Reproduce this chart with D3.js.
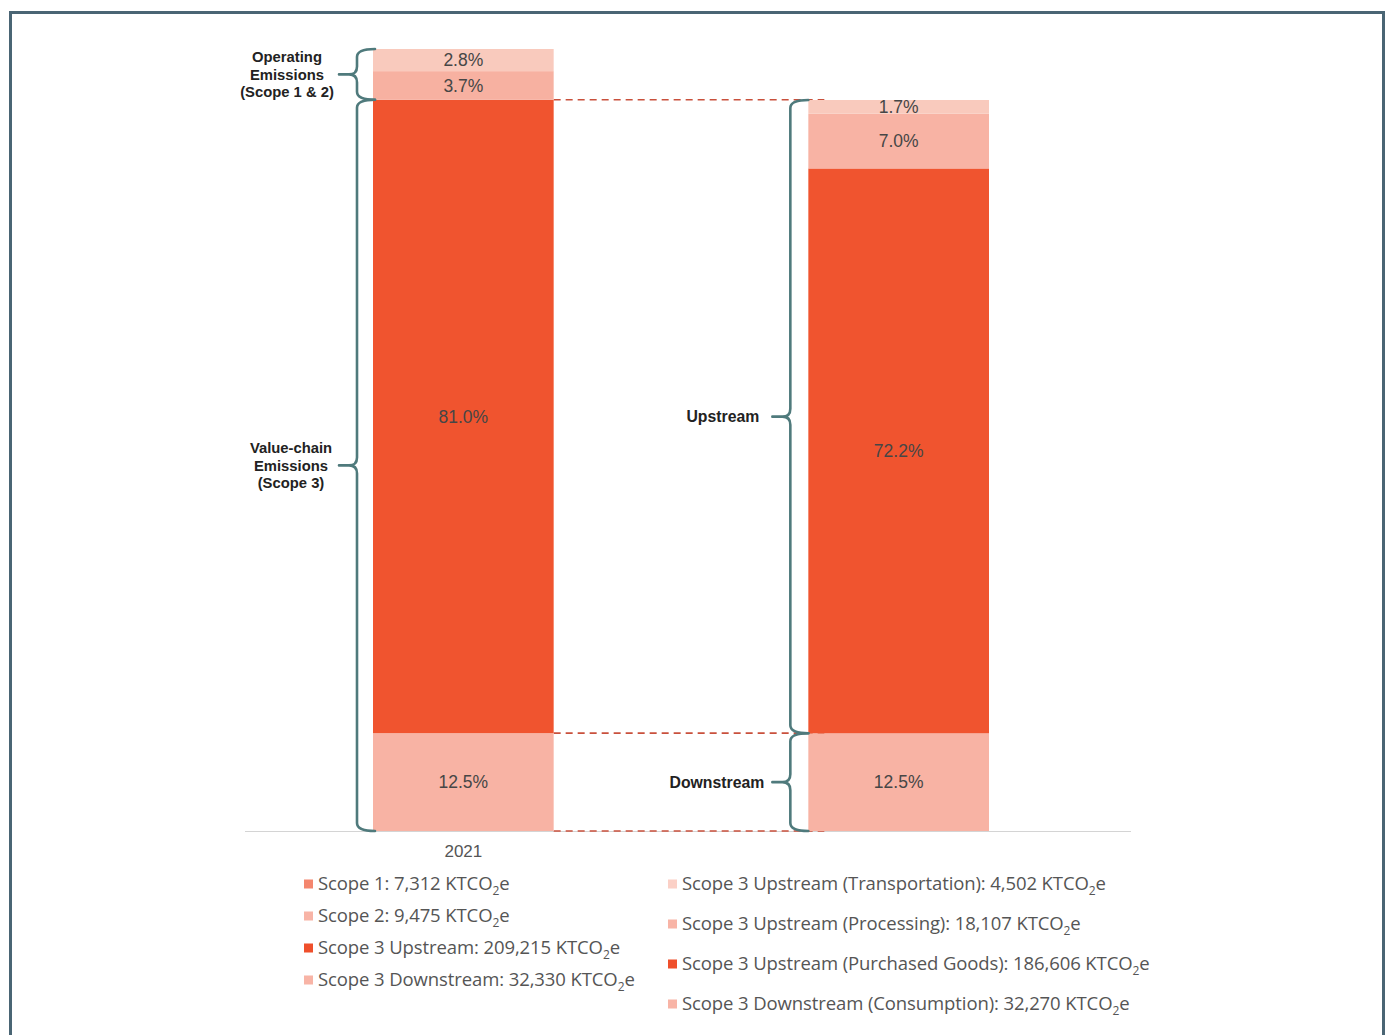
<!DOCTYPE html>
<html>
<head>
<meta charset="utf-8">
<script src="https://cdn.jsdelivr.net/npm/d3@7"></script>
<style>
  body { margin: 0; background: #fff; }
  svg { display: block; }
</style>
</head>
<body>
<div id="chart"></div>
<script>
// stacks, bottom to top
const leftKeys = ["Scope 3 Downstream", "Scope 3 Upstream", "Scope 2", "Scope 1"];
const leftValues = [32330, 209215, 9475, 7312];
const leftLabels = ["12.5%", "81.0%", "3.7%", "2.8%"];
const leftColors = ["#f8b3a4", "#f0542f", "#f7b1a1", "#f9cabd"];

const rightKeys = ["Consumption", "Purchased Goods", "Processing", "Transportation"];
const rightValues = [32270, 186606, 18107, 4502];
const rightLabels = ["12.5%", "72.2%", "7.0%", "1.7%"];
const rightColors = ["#f8b3a4", "#f0542f", "#f8b3a4", "#f9cabd"];

const categories = ["2021", ""];

const legendLeft = [
  {pre: "Scope 1: 7,312 KTCO", color: "#f4866e"},
  {pre: "Scope 2: 9,475 KTCO", color: "#f8b4a6"},
  {pre: "Scope 3 Upstream: 209,215 KTCO", color: "#ef4f2b"},
  {pre: "Scope 3 Downstream: 32,330 KTCO", color: "#f8b4a6"}
];
const legendRight = [
  {pre: "Scope 3 Upstream (Transportation): 4,502 KTCO", color: "#fbd0c6"},
  {pre: "Scope 3 Upstream (Processing): 18,107 KTCO", color: "#f8b4a6"},
  {pre: "Scope 3 Upstream (Purchased Goods): 186,606 KTCO", color: "#ef4f2b"},
  {pre: "Scope 3 Downstream (Consumption): 32,270 KTCO", color: "#f8b4a6"}
];

const W = 1389, H = 1035;
const svg = d3.select("#chart").append("svg").attr("width", W).attr("height", H);

// frame
svg.append("rect")
  .attr("x", 10.5).attr("y", 12.5)
  .attr("width", 1373).attr("height", 1100)
  .attr("fill", "none").attr("stroke", "#4a6574").attr("stroke-width", 3);

const total = d3.sum(leftValues);
const baseY = 831;
const y = d3.scaleLinear().domain([0, total]).range([baseY, 49]);
const x = d3.scaleBand().domain(categories).range([373, 989]).paddingInner(0.585);
const bw = x.bandwidth();

const stackUp = (vals) => {
  let acc = 0;
  return vals.map(v => { const s = acc; acc += v; return [s, acc]; });
};
const leftStack = stackUp(leftValues);
const rightStack = stackUp(rightValues);

// axis baseline
svg.append("line")
  .attr("x1", 245).attr("x2", 1131)
  .attr("y1", baseY + 0.5).attr("y2", baseY + 0.5)
  .attr("stroke", "#d4d4d4").attr("stroke-width", 1);

// dashed connectors
const lx2 = x(categories[0]) + bw;
const rx1 = x(categories[1]);
[leftStack[1][1], leftStack[0][1], 0].forEach(v => {
  svg.append("line")
    .attr("x1", lx2).attr("x2", rx1 + 16)
    .attr("y1", y(v)).attr("y2", y(v))
    .attr("stroke", "#c9503c").attr("stroke-width", 1.6)
    .attr("stroke-dasharray", "7,5");
});

// bars
const drawStack = (stack, colors, labels, cat) => {
  const g = svg.append("g");
  g.selectAll("rect").data(stack).join("rect")
    .attr("x", x(cat))
    .attr("width", bw)
    .attr("y", d => y(d[1]))
    .attr("height", d => y(d[0]) - y(d[1]))
    .attr("fill", (d, i) => colors[i]);
  g.selectAll("text").data(stack).join("text")
    .attr("x", x(cat) + bw / 2)
    .attr("y", d => (y(d[0]) + y(d[1])) / 2)
    .attr("dy", "0.36em")
    .attr("text-anchor", "middle")
    .attr("font-family", "Liberation Sans, Arial, sans-serif")
    .attr("font-size", "17.5px")
    .attr("fill", "#464646")
    .text((d, i) => labels[i]);
};
drawStack(leftStack, leftColors, leftLabels, categories[0]);
drawStack(rightStack, rightColors, rightLabels, categories[1]);

// category axis (labels only)
const xAxis = d3.axisBottom(x).tickSize(0).tickPadding(14);
svg.append("g")
  .attr("transform", `translate(0,${baseY})`)
  .call(xAxis)
  .call(g => g.select(".domain").remove())
  .selectAll("text")
  .attr("font-family", "Liberation Sans, Arial, sans-serif")
  .attr("font-size", "17px")
  .attr("fill", "#555");

// braces
const brace = (xs, y0, y1) => {
  const r = 8, xe = xs + 18, ym = (y0 + y1) / 2;
  const p = `M${xe},${y0} Q${xs},${y0} ${xs},${y0 + r} L${xs},${ym - r} ` +
    `Q${xs},${ym} ${xs - r},${ym} Q${xs},${ym} ${xs},${ym + r} ` +
    `L${xs},${y1 - r} Q${xs},${y1} ${xe},${y1} M${xs - r},${ym} L${xs - r - 10},${ym}`;
  svg.append("path").attr("d", p)
    .attr("fill", "none").attr("stroke", "#4f7a7c")
    .attr("stroke-width", 2.6).attr("stroke-linecap", "round");
  return ym;
};

const braceLabel = (lines, xPos, ym, anchor, size) => {
  const t = svg.append("text")
    .attr("font-family", "Liberation Sans, Arial, sans-serif")
    .attr("font-weight", "bold")
    .attr("font-size", size)
    .attr("fill", "#222")
    .attr("text-anchor", anchor);
  const lh = 17.5;
  lines.forEach((l, i) => {
    t.append("tspan").attr("x", xPos)
      .attr("y", ym + (i - (lines.length - 1) / 2) * lh)
      .attr("dy", "0.35em").text(l);
  });
};

const lxs = x(categories[0]) - 16;
const rxs = x(categories[1]) - 18;
let ym = brace(lxs, y(total), y(leftStack[1][1]));
braceLabel(["Operating", "Emissions", "(Scope 1 & 2)"], lxs - 70, ym, "middle", "14.8px");
ym = brace(lxs, y(leftStack[1][1]), y(0));
braceLabel(["Value-chain", "Emissions", "(Scope 3)"], lxs - 66, ym, "middle", "14.8px");
ym = brace(rxs, y(rightStack[3][1]), y(rightStack[0][1]));
braceLabel(["Upstream"], rxs - 31, ym, "end", "15.8px");
ym = brace(rxs, y(rightStack[0][1]), y(0));
braceLabel(["Downstream"], rxs - 26, ym, "end", "15.8px");

// legend
const drawLegend = (items, x0, y0, step) => {
  const g = svg.append("g");
  items.forEach((d, i) => {
    const cy = y0 + i * step;
    g.append("rect").attr("x", x0).attr("y", cy - 4.5)
      .attr("width", 9).attr("height", 9).attr("fill", d.color);
    const t = g.append("text")
      .attr("x", x0 + 14).attr("y", cy).attr("dy", "0.35em")
      .attr("font-family", "Open Sans, sans-serif")
      .attr("font-size", "18.5px")
      .attr("letter-spacing", "-0.1px")
      .attr("fill", "#555");
    t.append("tspan").text(d.pre);
    t.append("tspan").attr("font-size", "12px").attr("dy", "5").text("2");
    t.append("tspan").attr("dy", "-5").text("e");
  });
};
drawLegend(legendLeft, 304, 884, 32);
drawLegend(legendRight, 668, 884, 40);
</script>
</body>
</html>
